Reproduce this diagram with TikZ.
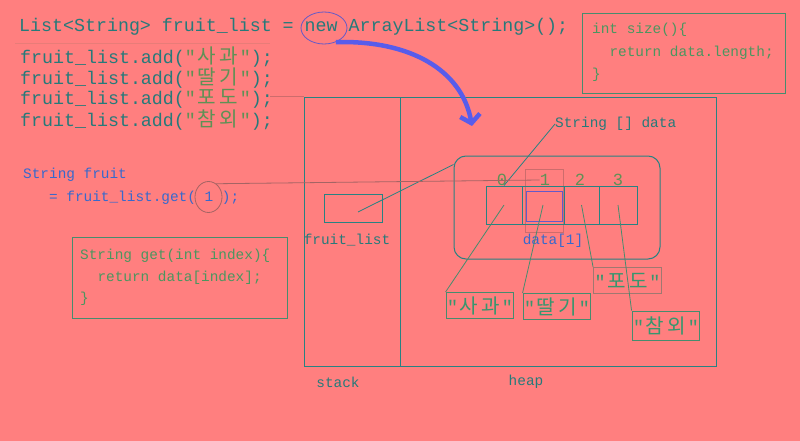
\documentclass[tikz,border=0pt]{standalone}
\usepackage{fontspec}
\setmonofont{Liberation Mono}
\newfontfamily\kr[Scale=1.1]{Noto Sans CJK KR}
\usetikzlibrary{arrows.meta,shapes.geometric}
\definecolor{bg}{RGB}{255,127,127}
\definecolor{teal1}{RGB}{38,122,122}
\definecolor{frame}{RGB}{40,130,130}
\definecolor{bluet}{RGB}{55,105,205}
\definecolor{codeg}{RGB}{75,150,95}
\definecolor{boxg}{RGB}{70,140,110}
\definecolor{strg}{RGB}{55,150,110}
\definecolor{oliv}{RGB}{95,145,85}
\definecolor{arrowb}{RGB}{88,92,235}
\definecolor{purp}{RGB}{100,90,200}
\definecolor{brownl}{RGB}{165,100,100}
\definecolor{darks}{RGB}{205,108,108}
\definecolor{greyb}{RGB}{160,120,112}
\newcommand\kw[2]{\makebox[1.2em]{\kr #1}\makebox[1.2em]{\kr #2}}
\newcommand\bigf{\fontsize{18.3pt}{21pt}\selectfont\ttfamily}
\newcommand\smf{\fontsize{14.4pt}{17pt}\selectfont\ttfamily}
\tikzset{
  codeline/.style={anchor=west, inner sep=0pt, font=\bigf, text=teal1},
  smalltext/.style={inner sep=0pt, font=\smf},
  strbox/.style={draw=boxg, line width=1pt, font=\bigf, text=strg, minimum height=26pt, inner sep=1pt},
  cellbox/.style={draw=frame, line width=1pt, minimum height=38pt, inner sep=0pt},
  plainbox/.style={line width=1pt, inner sep=0pt},
  idx/.style={inner sep=0pt, font=\fontsize{17pt}{20pt}\selectfont\ttfamily, text=oliv},
  link/.style={draw=boxg, line width=0.8pt},
}
\begin{document}
\begin{tikzpicture}[x=1pt,y=-1pt]
\fill[bg] (0,0) rectangle (800,441);
\useasboundingbox (0,0) rectangle (800,441);

% faint lines
\draw[color={rgb,255:red,232;green,124;blue,120}, line width=1pt] (15,44) -- (270,44);
\draw[darks, line width=1pt] (270,97) -- (304,97);

% code lines
\node[codeline] (l1) at (19,27) {List<String> fruit\_list = new ArrayList<String>();};
\node[codeline] (l2) at (20,57) {fruit\_list.add(\textcolor{oliv}{"\kw{사}{과}"});};
\node[codeline] (l3) at (20,78) {fruit\_list.add(\textcolor{oliv}{"\kw{딸}{기}"});};
\node[codeline] (l4) at (20,99) {fruit\_list.add(\textcolor{oliv}{"\kw{포}{도}"});};
\node[codeline] (l5) at (20,120) {fruit\_list.add(\textcolor{oliv}{"\kw{참}{외}"});};

\node[ellipse, draw=purp, line width=0.8pt, minimum width=46pt, minimum height=32pt, inner sep=0pt] (newc) at (324,28) {};

% stack / heap frame
\node[plainbox, draw=frame, minimum width=96pt, minimum height=269pt, anchor=north west] (stack) at (304,97) {};
\node[plainbox, draw=frame, minimum width=316pt, minimum height=269pt, anchor=north west] (heap) at (400,97) {};
\node[smalltext, text=teal1] (stackl) at (338,382) {stack};
\node[smalltext, text=teal1] (heapl) at (526,382) {heap};

% arrow from new
\coordinate (atip) at (472,126);
\draw[arrowb, line width=4.5pt, -{Straight Barb[length=8pt,width=20pt]}] (newc.-50) .. controls (410,40) and (462,70) .. (atip);

% fruit_list reference
\node[plainbox, draw=frame, minimum width=58pt, minimum height=28pt] (flbox) at (353,208) {};
\node[smalltext, text=teal1] (fll) at (347,240) {fruit\_list};

% array object
\node[plainbox, draw=frame, rounded corners=12pt, minimum width=206pt, minimum height=103pt] (arr) at (557,207.5) {};
\node[plainbox, draw=darks, minimum width=38pt, minimum height=63pt] (hl2) at (544,200.5) {};
\node[cellbox, minimum width=36pt] (c0) at (504,205) {};
\node[cellbox, minimum width=42pt] (c1) at (543,205) {};
\node[cellbox, minimum width=35pt] (c2) at (581.5,205) {};
\node[cellbox, minimum width=38pt] (c3) at (618,205) {};
\node[plainbox, draw=purp, minimum width=36pt, minimum height=30pt] (hl) at (544,206) {};
\node[idx] (i0) at (502,180) {0};
\node[idx] (i1) at (545,180) {1};
\node[idx] (i2) at (580,180) {2};
\node[idx] (i3) at (618,180) {3};
\node[smalltext, text=bluet] (dl) at (553,241) {data[1]};

\node[smalltext, text=teal1, anchor=west] (sdata) at (555,124) {String [] data};
\draw[frame, line width=0.8pt] (sdata.west) -- (c0.north);

\coordinate (flp) at (358,212);
\draw[frame, line width=0.8pt] (flp) -- ([yshift=-9pt]arr.north west);

% strings
\node[strbox] (s0) at (480,305.5) {"\kw{사}{과}"};
\node[strbox] (s1) at (557,306.5) {"\kw{딸}{기}"};
\node[strbox, draw=greyb] (s2) at (627.5,280.5) {"\kw{포}{도}"};
\node[strbox, minimum height=29pt] (s3) at (666,325.5) {"\kw{참}{외}"};
\draw[link] (c0.center) -- (s0.north west);
\draw[link] (c1.center) -- (s1.north west);
\draw[link] (c2.center) -- (s2.north west);
\draw[link] (c3.center) -- (s3.north west);

% String fruit = fruit_list.get(1);
\node[smalltext, text=bluet, anchor=west] (sf1) at (23,175) {String fruit};
\node[smalltext, text=bluet, anchor=west] (sf2) at (23,198) {\hspace*{25.9pt}= fruit\_list.get( 1 );};
\node[ellipse, draw=brownl, line width=0.8pt, minimum width=27pt, minimum height=31pt, inner sep=0pt] (one) at (208.5,197) {};
\draw[brownl, line width=0.8pt] (one.60) -- (i1.west);

% get() code box
\node[plainbox, draw=boxg, minimum width=215pt, minimum height=81pt, anchor=north west] (getbox) at (72,237) {};
\node[smalltext, text=codeg, anchor=west] (g1) at (80,256) {String get(int index)\{};
\node[smalltext, text=codeg, anchor=west] (g2) at (80,278) {\hspace*{17.3pt}return data[index];};
\node[smalltext, text=codeg, anchor=west] (g3) at (80,299) {\}};

% size() code box
\node[plainbox, draw=boxg, minimum width=203pt, minimum height=80pt, anchor=north west] (sizebox) at (582,13) {};
\node[smalltext, text=codeg, anchor=west] (z1) at (592,30) {int size()\{};
\node[smalltext, text=codeg, anchor=west] (z2) at (592,53) {\hspace*{17.3pt}return data.length;};
\node[smalltext, text=codeg, anchor=west] (z3) at (592,75) {\}};
\end{tikzpicture}
\end{document}
